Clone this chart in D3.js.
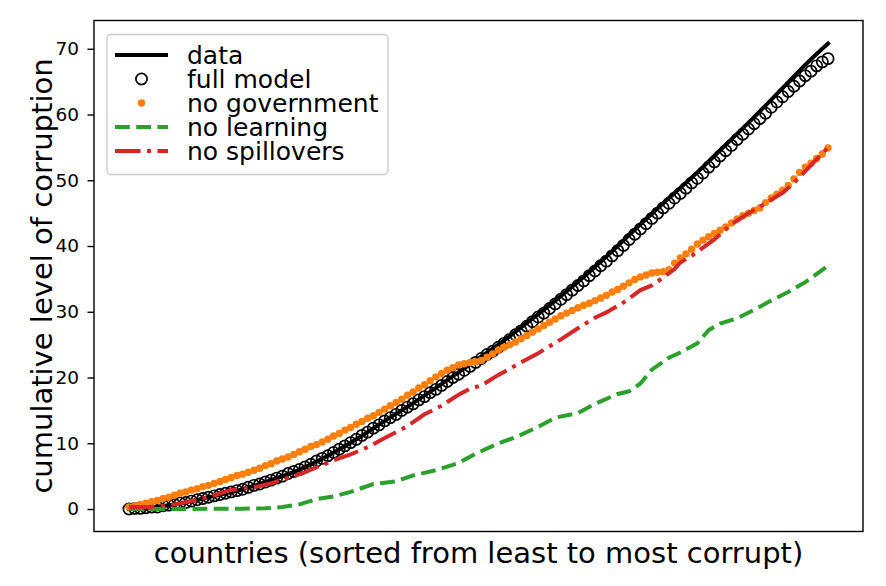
<!DOCTYPE html>
<html><head><meta charset="utf-8">
<script src="https://cdn.jsdelivr.net/npm/d3@7"></script>
<style>body{margin:0;background:#fff}svg{display:block}text{font-family:"DejaVu Sans",sans-serif}</style>
</head><body>
<svg id="c" width="886" height="586"></svg>
<script>
// ---- data ----
const nCountries = 124;
const yTicks = [0,10,20,30,40,50,60,70];
const seriesNames = ["data","full model","no government","no learning","no spillovers"];

// "data" line: country index -> cumulative value
const dataIdx  = [0,5,10,15,20,25,30,35,40,45,50,55,60,65,70,75,80,85,90,95,100,105,110,115,120,123];
const dataVals = [0,0.35,1.0,2.0,3.0,4.4,6.0,8.1,10.6,13.4,16.1,19.0,22.0,25.0,28.3,31.7,35.3,39.2,43.3,47.3,51.2,55.4,59.6,64.0,68.4,70.8];

// "full model" open circles, one per country
const fullModel = [0.0,0.1,0.1,0.2,0.3,0.3,0.5,0.6,0.7,0.9,1.0,1.2,1.4,1.6,1.8,2.0,2.2,2.4,2.6,2.8,
 3.0,3.3,3.6,3.8,4.1,4.4,4.7,5.0,5.4,5.7,6.0,6.4,6.8,7.3,7.7,8.1,8.6,9.1,9.6,10.1,
 10.6,11.2,11.7,12.3,12.8,13.4,13.9,14.4,15.0,15.5,16.0,16.6,17.1,17.7,18.2,18.8,19.4,20.0,20.5,21.1,
 21.7,22.3,22.9,23.5,24.0,24.6,25.2,25.8,26.5,27.1,27.8,28.5,29.2,29.8,30.5,31.2,31.9,32.6,33.3,34.0,
 34.7,35.5,36.2,37.0,37.7,38.5,39.3,40.1,41.0,41.8,42.6,43.4,44.2,45.0,45.8,46.5,47.3,48.0,48.8,49.6,
 50.3,51.1,52.0,52.8,53.7,54.5,55.3,56.2,57.0,57.8,58.6,59.4,60.2,61.1,61.9,62.7,63.5,64.3,65.1,65.9,
 66.6,67.4,68.0,68.5];

// "no government" orange dots, one per country
const noGovernment = [0.3,0.5,0.7,0.9,1.1,1.3,1.6,1.8,2.1,2.4,2.6,2.9,3.1,3.4,3.6,3.9,4.2,4.5,4.8,5.1,
 5.3,5.6,5.9,6.2,6.6,6.9,7.3,7.6,7.9,8.3,8.7,9.1,9.5,9.8,10.2,10.6,11.1,11.5,12.0,12.4,
 12.9,13.3,13.8,14.2,14.7,15.2,15.7,16.2,16.7,17.3,17.8,18.4,18.9,19.5,20.1,20.6,21.1,21.5,21.9,22.1,
 22.3,22.4,22.6,23.1,23.6,24.2,24.6,25.0,25.4,25.9,26.4,26.9,27.4,27.9,28.4,28.9,29.4,29.8,30.2,30.6,
 31.0,31.3,31.7,32.1,32.5,33.0,33.4,33.9,34.4,34.9,35.3,35.6,35.9,36.0,36.1,36.4,37.4,38.2,38.8,39.5,
 40.3,40.9,41.4,41.9,42.4,42.9,43.5,44.1,44.6,45.0,45.4,45.8,46.6,47.3,47.9,48.5,49.2,50.2,51.2,52.0,
 52.6,53.3,54.0,54.9];

// "no learning" dashed green line
const learnIdx  = [0,5,10,15,20,24,27,30,33,36,39,43,47,50,54,58,61,65,68,72,75,79,82,86,88,90,92,95,97,100,102,104,107,110,113,116,119,123];
const learnVals = [0.0,0.0,0.0,0.05,0.05,0.1,0.3,0.7,1.5,1.9,2.6,3.8,4.2,5.1,5.9,7.0,8.4,10.0,10.9,12.5,13.9,14.6,16.0,17.5,17.9,19.1,21.2,23.0,23.8,25.2,27.2,28.2,29.0,30.3,31.7,33.0,34.5,37.0];

// "no spillovers" dash-dot red line
const spillIdx  = [0,4,8,12,15,18,22,25,29,31,34,36,39,42,45,49,52,55,58,60,62,65,69,72,76,79,82,84,87,90,92,94,96,97,99,103,106,109,112,115,117,119,123];
const spillVals = [0.3,0.3,0.7,1.4,2.1,2.9,3.3,3.9,5.0,5.6,6.7,7.4,8.3,9.4,10.8,12.6,14.4,15.7,17.4,18.3,18.8,20.4,22.3,23.7,25.8,27.5,29.1,29.9,31.4,33.3,34.0,35.2,36.5,37.5,38.5,41.0,43.3,45.0,46.5,48.1,49.6,51.4,55.0];

// ---- drawing ----
const svg = d3.select("#c");
const L = 94, R = 863, T = 20.5, B = 531.5;
const span = nCountries - 1;
const x = d3.scaleLinear().domain([-0.05*span, 1.05*span]).range([L, R]);
const y = d3.scaleLinear().domain([-3.42, 74.3]).range([B, T]);

const black = "#000000", orange = "#ff7f0e", green = "#2ca02c", red = "#d62728";
const lw = 4;
const circR = 5.6, circW = 1.7, dotR = 3.7;

const g = svg.append("g");

// data line
const lineGen = d3.line().x(d => x(d[0])).y(d => y(d[1]));
g.append("path")
  .attr("d", lineGen.curve(d3.curveMonotoneX)(dataIdx.map((i,k)=>[i,dataVals[k]])))
  .attr("fill","none").attr("stroke",black).attr("stroke-width",lw).attr("stroke-linecap","square");

// full model circles
g.append("g").selectAll("circle").data(fullModel).join("circle")
  .attr("cx",(d,i)=>x(i)).attr("cy",d=>y(d)).attr("r",circR)
  .attr("fill","none").attr("stroke",black).attr("stroke-width",circW);

// no government dots
g.append("g").selectAll("circle").data(noGovernment).join("circle")
  .attr("cx",(d,i)=>x(i)).attr("cy",d=>y(d)).attr("r",dotR)
  .attr("fill",orange);

// no learning
g.append("path")
  .attr("d", d3.line().x(d=>x(d[0])).y(d=>y(d[1]))(learnIdx.map((i,k)=>[i,learnVals[k]])))
  .attr("fill","none").attr("stroke",green).attr("stroke-width",lw)
  .attr("stroke-dasharray","14.8,6.4");

// no spillovers
g.append("path")
  .attr("d", d3.line().x(d=>x(d[0])).y(d=>y(d[1]))(spillIdx.map((i,k)=>[i,spillVals[k]])))
  .attr("fill","none").attr("stroke",red).attr("stroke-width",lw)
  .attr("stroke-dasharray","25.6,6.4,4,6.4");

// frame
svg.append("rect").attr("x",L).attr("y",T).attr("width",R-L).attr("height",B-T)
  .attr("fill","none").attr("stroke","#000").attr("stroke-width",1.4);

// y axis ticks + labels
const yAxis = d3.axisLeft(y).tickValues(yTicks).tickSize(6.5).tickPadding(8.5).tickFormat(d3.format("d"));
const ya = svg.append("g").attr("transform",`translate(${L},0)`).call(yAxis);
ya.select(".domain").remove();
ya.selectAll(".tick line").attr("stroke","#000").attr("stroke-width",1.4);
ya.selectAll(".tick text").attr("font-size",18.5).attr("font-family","DejaVu Sans").attr("fill","#000");

// axis labels
svg.append("text").attr("x",(L+R)/2).attr("y",563).attr("text-anchor","middle")
  .attr("font-size",29).text("countries (sorted from least to most corrupt)");
svg.append("text").attr("transform",`translate(52,${(T+B)/2}) rotate(-90)`).attr("text-anchor","middle")
  .attr("font-size",29).text("cumulative level of corruption");

// legend
const lg = svg.append("g");
lg.append("rect").attr("x",107).attr("y",34.5).attr("width",281).attr("height",140).attr("rx",4)
  .attr("fill","#fff").attr("fill-opacity",0.8).attr("stroke","#cccccc").attr("stroke-width",1.4);
const rows = [55,79,103,127,151];
const hx0 = 115, hx1 = 168, hxm = (hx0+hx1)/2;
lg.append("line").attr("x1",hx0).attr("x2",hx1).attr("y1",rows[0]).attr("y2",rows[0]).attr("stroke",black).attr("stroke-width",lw);
lg.append("circle").attr("cx",hxm).attr("cy",rows[1]).attr("r",circR).attr("fill","none").attr("stroke",black).attr("stroke-width",circW);
lg.append("circle").attr("cx",hxm).attr("cy",rows[2]).attr("r",dotR).attr("fill",orange);
lg.append("line").attr("x1",hx0).attr("x2",hx1).attr("y1",rows[3]).attr("y2",rows[3]).attr("stroke",green).attr("stroke-width",lw).attr("stroke-dasharray","14.8,6.4");
lg.append("line").attr("x1",hx0).attr("x2",hx1).attr("y1",rows[4]).attr("y2",rows[4]).attr("stroke",red).attr("stroke-width",lw).attr("stroke-dasharray","25.6,6.4,4,6.4");
lg.selectAll("text.lab").data(seriesNames).join("text").attr("class","lab")
  .attr("x",187).attr("y",(d,i)=>rows[i]+8.5).attr("font-size",25).attr("fill","#000").text(d=>d);
</script>
</body></html>
